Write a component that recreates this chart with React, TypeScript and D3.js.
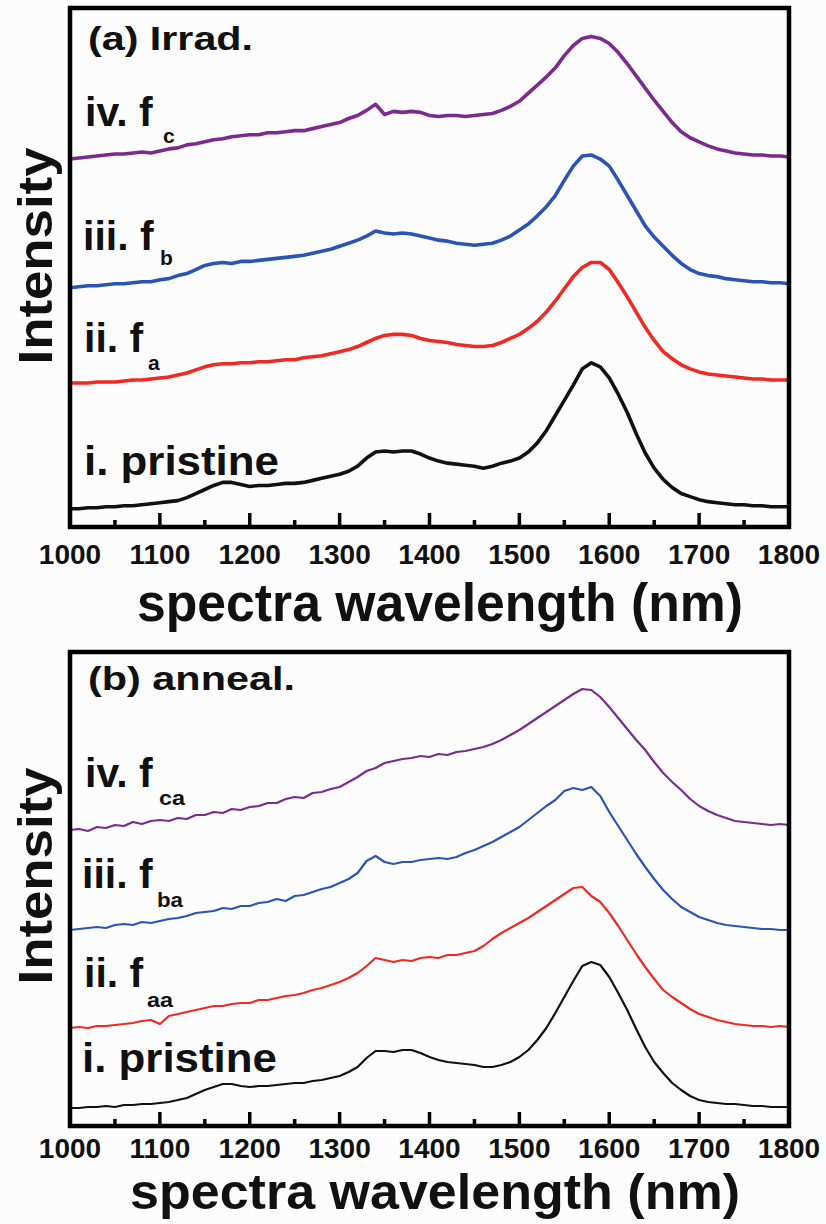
import React from "react";
import * as d3 from "d3";

// wavelength grid (nm), 10 nm steps
const wavelengths: number[] = d3.range(1000, 1801, 10);

// (a) Irradiated — intensity (a.u., offset-stacked)
const irrPristine = [
  25,25,26,26,27,27,28,28,29,30,
  31,32,33,36,40,44,48,51,51,49,
  47,48,48,49,50,50,51,53,55,57,
  59,62,67,75,81,82,81,82,82,79,
  75,72,70,69,68,67,65,67,70,72,
  75,81,90,102,117,132,147,163,169,165,
  154,138,120,99,80,65,54,46,40,37,
  34,32,31,30,29,29,28,28,27,27,
  27];
const irrFa = [
  149,149,149,150,150,150,151,152,152,153,
  154,155,157,159,162,165,167,168,168,169,
  169,170,170,171,172,172,174,175,176,178,
  180,182,185,189,193,196,197,197,196,193,
  191,190,189,187,186,185,185,186,189,193,
  197,203,210,219,230,242,254,263,268,268,
  261,248,234,219,204,191,180,173,167,163,
  160,158,157,156,155,154,153,153,152,152,
  152];
const irrFb = [
  243,244,245,245,246,247,247,248,249,249,
  251,252,255,257,261,265,267,268,267,269,
  269,270,271,272,273,274,275,277,279,281,
  284,287,290,294,299,297,296,297,296,294,
  292,290,289,287,286,285,286,287,290,294,
  300,306,314,323,334,349,363,373,374,370,
  363,349,334,319,304,293,284,275,267,261,
  257,255,254,252,251,250,249,249,248,248,
  247];
const irrFc = [
  370,371,372,373,374,375,375,376,377,376,
  378,380,381,384,385,387,389,390,392,393,
  394,394,396,396,397,398,398,400,402,404,
  406,410,413,418,424,414,417,416,417,416,
  413,412,413,413,412,413,414,415,418,422,
  427,435,443,451,460,472,482,489,491,489,
  484,475,464,452,440,428,417,406,397,391,
  387,383,380,378,376,375,374,374,373,373,
  372];

// (b) Annealed
const annPristine = [
  18,18,19,19,20,19,21,21,22,22,
  23,24,26,28,32,36,39,42,42,40,
  39,40,40,41,42,43,43,45,46,48,
  50,54,59,68,75,75,74,76,76,73,
  69,66,64,63,62,61,59,59,61,64,
  69,76,86,98,113,129,145,160,164,161,
  149,133,116,97,79,64,53,43,36,30,
  26,24,23,22,22,21,20,20,19,19,
  19];
const annFaa = [
  98,99,98,100,100,101,102,103,105,106,
  102,110,112,114,116,118,120,120,122,123,
  123,126,126,128,130,131,133,136,138,141,
  144,148,153,160,168,166,164,166,165,168,
  169,168,171,171,173,175,180,187,193,198,
  203,208,214,220,226,232,238,239,230,224,
  213,200,186,172,159,147,136,129,123,117,
  112,109,106,104,102,101,100,100,99,100,
  99];
const annFba = [
  196,197,198,199,198,201,202,201,204,203,
  205,207,208,210,213,214,215,218,217,220,
  220,223,224,227,225,230,231,234,237,239,
  243,247,253,265,270,264,262,264,264,266,
  267,268,267,269,273,276,280,284,289,294,
  299,306,313,320,326,335,338,336,339,330,
  314,300,286,272,259,247,236,227,219,214,
  209,206,203,201,200,199,198,197,197,196,
  196];
const annFca = [
  296,297,295,299,298,301,300,304,302,305,
  306,305,308,307,311,311,314,313,317,316,
  319,320,323,323,327,329,328,333,334,337,
  339,344,349,355,358,363,365,367,368,370,
  369,372,371,374,375,377,379,382,386,391,
  396,402,408,414,420,426,432,437,436,429,
  419,408,397,386,376,364,353,344,336,327,
  320,315,311,308,305,304,303,302,301,302,
  301];

const xTicks = [1000, 1100, 1200, 1300, 1400, 1500, 1600, 1700, 1800];
const xMinorTicks = [1050, 1150, 1250, 1350, 1450, 1550, 1650, 1750];

const COLORS = { black: "#111111", red: "#ee2a22", blue: "#2b55b5", purple: "#7b2b8e" };
const FONT = "'Liberation Sans', Arial, Helvetica, sans-serif";

type Series = { values: number[]; color: string; main: string; sub: string; lx: number; ly: number; sx: number; sy: number; subLen?: number; mainLen?: number };

type PanelProps = {
  top: number; bottom: number; yDomain: [number, number];
  series: Series[]; width: number;
  title: string; titleLen: number; titleY: number;
  ylabY: number; tickY: number; xTitleY: number; xTitleX: number; xTitleLen: number; xTitleSize: number;
};

const LEFT = 70, RIGHT = 789;

function Panel(p: PanelProps) {
  const x = d3.scaleLinear().domain([1000, 1800]).range([LEFT, RIGHT]);
  const y = d3.scaleLinear().domain(p.yDomain).range([p.bottom, p.top]);
  const line = d3.line<number>().x((_, i) => x(wavelengths[i])).y((d) => y(d)).curve(d3.curveLinear);
  return (
    <g>
      {p.series.map((s, k) => (
        <path key={k} d={line(s.values) || ""} fill="none" stroke={s.color} strokeWidth={p.width} strokeLinejoin="round" />
      ))}
      <rect x={LEFT} y={p.top} width={RIGHT - LEFT} height={p.bottom - p.top} fill="none" stroke="#000" strokeWidth={4.5} />
      {xTicks.map((t) => (
        <line key={t} x1={x(t)} x2={x(t)} y1={p.bottom} y2={p.bottom - 14} stroke="#000" strokeWidth={3.5} />
      ))}
      {xMinorTicks.map((t) => (
        <line key={t} x1={x(t)} x2={x(t)} y1={p.bottom} y2={p.bottom - 7} stroke="#000" strokeWidth={3.5} />
      ))}
      {xTicks.map((t) => (
        <text key={t} x={x(t)} y={p.tickY} textAnchor="middle" fontFamily={FONT} fontWeight="bold" fontSize={28} fill="#111">{t}</text>
      ))}
      <text x={p.xTitleX} y={p.xTitleY} textAnchor="middle" fontFamily={FONT} fontWeight="bold" fontSize={p.xTitleSize}
        textLength={p.xTitleLen} lengthAdjust="spacingAndGlyphs" fill="#111">spectra wavelength (nm)</text>
      <text transform={`translate(52,${p.ylabY}) rotate(-90)`} textAnchor="middle" fontFamily={FONT} fontWeight="bold" fontSize={48}
        textLength={217} lengthAdjust="spacingAndGlyphs" fill="#111">Intensity</text>
      <text x={88} y={p.titleY} fontFamily={FONT} fontWeight="bold" fontSize={33} textLength={p.titleLen}
        lengthAdjust="spacingAndGlyphs" fill="#111">{p.title}</text>
      {p.series.map((s, k) => (
        <g key={k}>
          <text x={s.lx} y={s.ly} fontFamily={FONT} fontWeight="bold" fontSize={41} fill="#111"
            textLength={s.mainLen} lengthAdjust="spacingAndGlyphs">{s.main}</text>
          {s.sub ? (
            <text x={s.sx} y={s.sy} fontFamily={FONT} fontWeight="bold" fontSize={21} fill="#111"
              textLength={s.subLen} lengthAdjust="spacingAndGlyphs">{s.sub}</text>
          ) : null}
        </g>
      ))}
    </g>
  );
}

export default function App() {
  const topSeries: Series[] = [
    { values: irrPristine, color: COLORS.black, main: "i. pristine", sub: "", lx: 84, ly: 475, sx: 0, sy: 0, mainLen: 195 },
    { values: irrFa, color: COLORS.red, main: "ii. f", sub: "a", lx: 84, ly: 352, sx: 148, sy: 370 },
    { values: irrFb, color: COLORS.blue, main: "iii. f", sub: "b", lx: 83, ly: 250, sx: 160, sy: 265 },
    { values: irrFc, color: COLORS.purple, main: "iv. f", sub: "c", lx: 85, ly: 126, sx: 163, sy: 142.5 },
  ];
  const botSeries: Series[] = [
    { values: annPristine, color: COLORS.black, main: "i. pristine", sub: "", lx: 82, ly: 1072, sx: 0, sy: 0, mainLen: 195 },
    { values: annFaa, color: COLORS.red, main: "ii. f", sub: "aa", lx: 84, ly: 987, sx: 147, sy: 1007, subLen: 26 },
    { values: annFba, color: COLORS.blue, main: "iii. f", sub: "ba", lx: 82, ly: 888, sx: 157, sy: 907, subLen: 26 },
    { values: annFca, color: COLORS.purple, main: "iv. f", sub: "ca", lx: 85, ly: 787, sx: 159, sy: 805, subLen: 26 },
  ];
  return (
    <svg width={826} height={1224} style={{ position: "absolute", left: 0, top: 0, display: "block", background: "#fcfcfd" }}>
      <Panel top={8} bottom={527} yDomain={[7, 519]} series={topSeries} width={3.6}
        title="(a) Irrad." titleLen={165} titleY={50} ylabY={256} tickY={564}
        xTitleX={440} xTitleY={621} xTitleLen={606} xTitleSize={54} />
      <Panel top={652} bottom={1126} yDomain={[0, 474]} series={botSeries} width={2.2}
        title="(b) anneal." titleLen={207} titleY={690} ylabY={876} tickY={1158}
        xTitleX={435} xTitleY={1209} xTitleLen={610} xTitleSize={50} />
    </svg>
  );
}
